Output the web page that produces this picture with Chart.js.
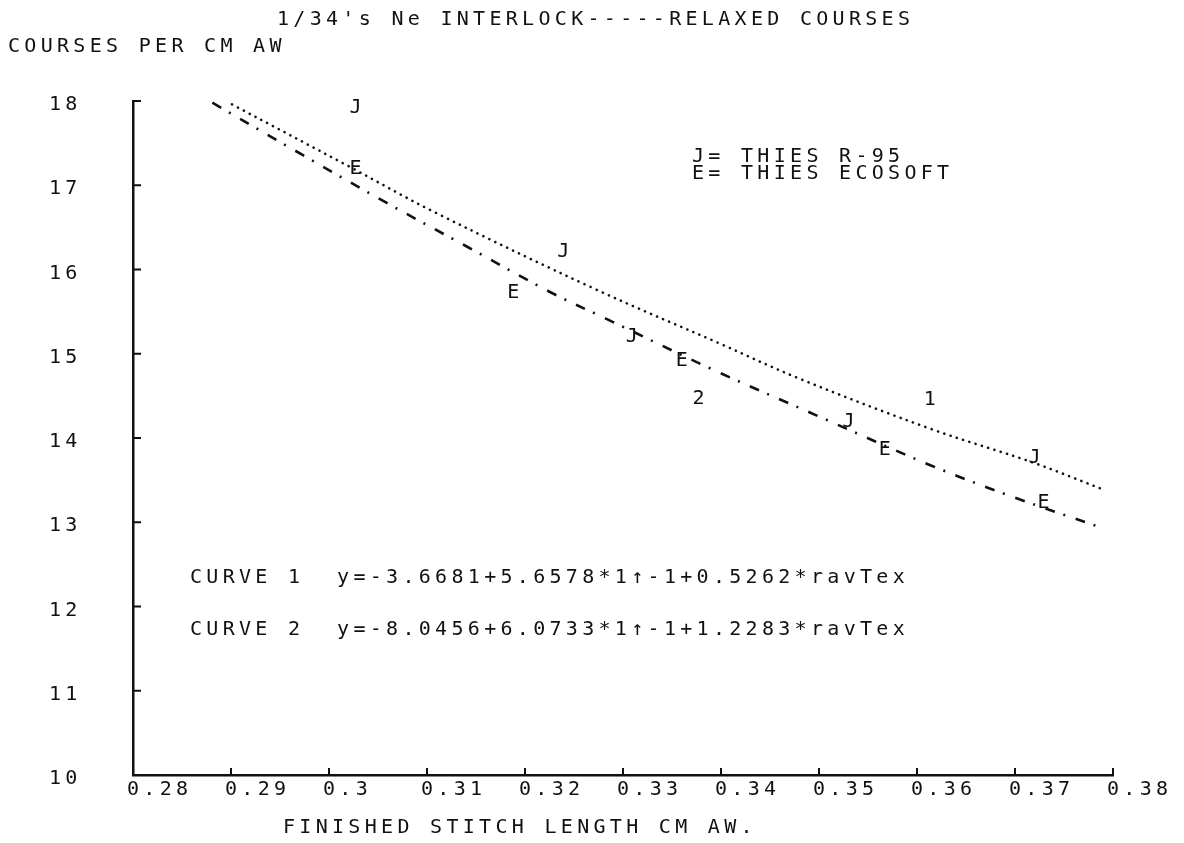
<!DOCTYPE html>
<html>
<head>
<meta charset="utf-8">
<script src="https://cdn.jsdelivr.net/npm/chart.js@4.4.1/dist/chart.umd.min.js"></script>
<style>
  html, body { margin: 0; padding: 0; background: #fff; }
  #wrap { width: 1184px; height: 843px; }
</style>
</head>
<body>
<div id="wrap"><canvas id="canvas1" width="1184" height="843"></canvas></div>
<script>
// axis ticks
var xTicks = [0.28, 0.29, 0.30, 0.31, 0.32, 0.33, 0.34, 0.35, 0.36, 0.37, 0.38];
var xTickLabels = ['0.28', '0.29', '0.3', '0.31', '0.32', '0.33', '0.34', '0.35', '0.36', '0.37', '0.38'];
var yTicks = [10, 11, 12, 13, 14, 15, 16, 17, 18];
var yTickLabels = ['10', '11', '12', '13', '14', '15', '16', '17', '18'];

// fitted curves (1 = dotted, 2 = dash-dot)
var curve1X = [0.2901, 0.3021, 0.3106, 0.3273, 0.3399, 0.3481, 0.3616, 0.3718, 0.3792];
var curve1Y = [17.96, 17.22, 16.69, 15.76, 15.12, 14.70, 14.10, 13.71, 13.38];
var curve2X = [0.2881, 0.2973, 0.3059, 0.3141, 0.3226, 0.3282, 0.3392, 0.3503, 0.3613, 0.3698, 0.3787];
var curve2Y = [17.98, 17.36, 16.79, 16.27, 15.73, 15.42, 14.81, 14.24, 13.68, 13.30, 12.94];

// measured points: J = THIES R-95, E = THIES ECOSOFT
var r95X = [0.3027, 0.3239, 0.3309, 0.3530, 0.3720];
var r95Y = [17.92, 16.21, 15.20, 14.19, 13.76];
var ecoX = [0.3027, 0.3188, 0.3360, 0.3567, 0.3729];
var ecoY = [17.20, 15.72, 14.92, 13.86, 13.23];

// curve numbers written next to the lines
var curveTags = ['1', '2'];
var curveTagX = [0.3613, 0.3377];
var curveTagY = [14.45, 14.47];

var FONT = '20px "DejaVu Sans Mono"';
var INK = '#111';

function pts(xs, ys) {
  var out = [];
  for (var i = 0; i < xs.length; i++) out.push({x: xs[i], y: ys[i]});
  return out;
}

function $each(arr, fn) {
  for (var i = 0; i < arr.length; i++) fn(arr[i], i);
}

function say(ctx, txt, x, y, spacing, align) {
  ctx.save();
  ctx.font = FONT;
  ctx.fillStyle = INK;
  ctx.textBaseline = 'middle';
  ctx.textAlign = align || 'left';
  ctx.letterSpacing = (spacing === undefined ? 4.3 : spacing) + 'px';
  ctx.fillText(txt, x, y);
  ctx.restore();
}

var plotterText = {
  id: 'plotterText',
  afterDraw: function(chart) {
    var ctx = chart.ctx;
    var xs = chart.scales.x, ys = chart.scales.y;
    var area = chart.chartArea;

    // inward tick marks
    ctx.save();
    ctx.strokeStyle = INK;
    ctx.lineWidth = 2;
    ctx.beginPath();
    $each(xTicks, function(v) {
      var px = xs.getPixelForValue(v);
      ctx.moveTo(px, area.bottom);
      ctx.lineTo(px, area.bottom - 7);
    });
    $each(yTicks, function(v) {
      var py = ys.getPixelForValue(v);
      ctx.moveTo(area.left, py);
      ctx.lineTo(area.left + 8, py);
    });
    ctx.stroke();
    ctx.restore();

    // tick labels
    $each(xTicks, function(v, i) {
      say(ctx, xTickLabels[i], xs.getPixelForValue(v) - 6, area.bottom + 15);
    });
    $each(yTicks, function(v, i) {
      say(ctx, yTickLabels[i], 49, ys.getPixelForValue(v) + 4);
    });

    // J / E letters at the measured points
    chart.data.datasets.forEach(function(ds, di) {
      if (!ds.mark) return;
      chart.getDatasetMeta(di).data.forEach(function(el) {
        say(ctx, ds.mark, el.x, el.y, 0, 'center');
      });
    });

    $each(curveTags, function(t, i) {
      say(ctx, t, xs.getPixelForValue(curveTagX[i]), ys.getPixelForValue(curveTagY[i]), 0, 'center');
    });

    // titles and notes
    say(ctx, "1/34's Ne INTERLOCK-----RELAXED COURSES", 277, 20);
    say(ctx, 'COURSES PER CM AW', 8, 47);
    say(ctx, 'FINISHED STITCH LENGTH CM AW.', 283, 828);
    say(ctx, 'J= THIES R-95', 692, 157);
    say(ctx, 'E= THIES ECOSOFT', 692, 174);
    say(ctx, 'CURVE 1  y=-3.6681+5.6578*1\u2191-1+0.5262*ravTex', 190, 578);
    say(ctx, 'CURVE 2  y=-8.0456+6.0733*1\u2191-1+1.2283*ravTex', 190, 630);
  }
};

var ctx = document.getElementById('canvas1').getContext('2d');
new Chart(ctx, {
  type: 'line',
  data: {
    datasets: [{
      label: 'CURVE 1',
      data: pts(curve1X, curve1Y),
      borderColor: INK,
      borderWidth: 2.6,
      borderDash: [0.1, 6.5],
      borderCapStyle: 'round',
      pointRadius: 0,
      tension: 0.35
    }, {
      label: 'CURVE 2',
      data: pts(curve2X, curve2Y),
      borderColor: INK,
      borderWidth: 2.6,
      borderDash: [10, 9, 2, 11],
      pointRadius: 0,
      tension: 0.35
    }, {
      label: 'THIES R-95',
      mark: 'J',
      data: pts(r95X, r95Y),
      showLine: false,
      pointRadius: 0
    }, {
      label: 'THIES ECOSOFT',
      mark: 'E',
      data: pts(ecoX, ecoY),
      showLine: false,
      pointRadius: 0
    }]
  },
  options: {
    responsive: false,
    animation: false,
    layout: { padding: { left: 133, top: 101, right: 71, bottom: 68 } },
    plugins: { legend: { display: false }, tooltip: { enabled: false } },
    scales: {
      x: {
        type: 'linear', min: 0.28, max: 0.38,
        ticks: { display: false },
        grid: { display: false, drawTicks: false },
        border: { display: true, color: INK, width: 2.5 }
      },
      y: {
        type: 'linear', min: 10, max: 18,
        ticks: { display: false },
        grid: { display: false, drawTicks: false },
        border: { display: true, color: INK, width: 2.5 }
      }
    }
  },
  plugins: [plotterText]
});
</script>
</body>
</html>
